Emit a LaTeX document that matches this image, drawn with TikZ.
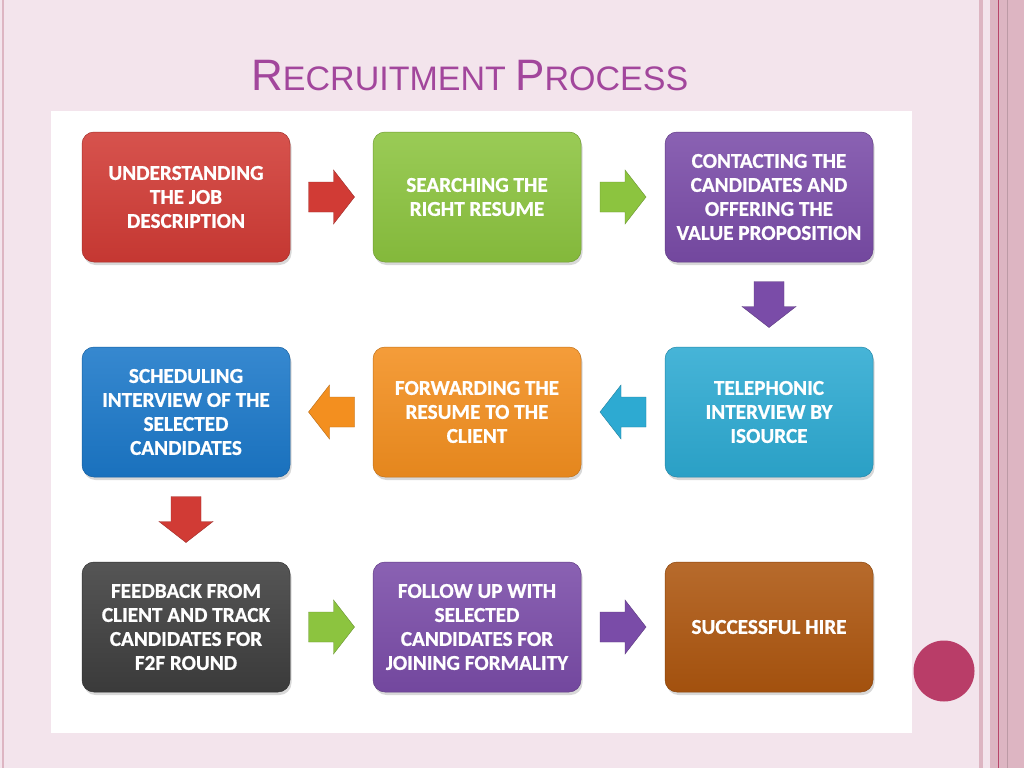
\documentclass[tikz,border=0pt]{standalone}
\usepackage{fontspec}
\usetikzlibrary{calc,shadows}
\newfontfamily\stagefont[BoldFeatures={FakeBold=0.8}]{Carlito}
\newfontfamily\titlefont{Liberation Sans}
\definecolor{pagebg}{HTML}{F3E4EC}
\definecolor{stripe}{HTML}{DDB5C2}
\definecolor{stripedark}{HTML}{B8456A}
\definecolor{dotpink}{HTML}{B93D68}
\definecolor{titlecol}{HTML}{A2469C}
\definecolor{cred}{HTML}{D13B35}
\definecolor{cgreen}{HTML}{8CC43F}
\definecolor{cpurple}{HTML}{7A4CA8}
\definecolor{ccyan}{HTML}{2DAAD2}
\definecolor{corange}{HTML}{F38F1F}
\definecolor{cblue}{HTML}{1B78C9}
\definecolor{cdark}{HTML}{3E3E3E}
\definecolor{cbrown}{HTML}{AD560F}
\tikzset{
  stage/.style={rounded corners=12pt, minimum width=208pt, minimum height=130pt,
    inner sep=0pt, align=center, text=white,
    font=\stagefont\bfseries\fontsize{21.2}{24}\selectfont,
    top color=#1!88!white, bottom color=#1!94!black, draw=#1!80!black, line width=0.5pt,
    drop shadow={shadow xshift=1.5pt, shadow yshift=-3pt, opacity=0.3}},
  flow/.style={fill=#1, draw=#1!75!black, line width=0.4pt}
}
% block arrow half way between two anchors
\newcommand\flowarrow[4]{%
  \filldraw[flow=#1, shift={($(#2)!0.5!(#3)$)}, rotate=#4]
    (-23,-15) -- (2,-15) -- (2,-27) -- (23,0) -- (2,27) -- (2,15) -- (-23,15) -- cycle;}
\newcommand\capsc[2]{{\fontsize{44}{44}\selectfont #1}{\fontsize{34}{34}\selectfont #2}}

\begin{document}
\begin{tikzpicture}[x=1pt, y=-1pt]
  \useasboundingbox (0,0) rectangle (1024,768);
  \fill[pagebg] (0,0) rectangle (1024,768);
  % page edge stripes
  \draw[stripe, line width=1.5pt] (3,0) -- (3,768);
  \fill[stripe] (979,0) rectangle (983,768);
  \fill[stripe] (990,0) rectangle (1024,768);
  \draw[stripedark, line width=1pt] (998,0) -- (998,768);
  \draw[stripe!85!black, line width=0.6pt] (1007,0) -- (1007,768);
  \fill[dotpink] (944,671) circle (30.5);
  \node[font=\titlefont\fontsize{34}{34}\selectfont, text=titlecol, anchor=base west, inner sep=0pt]
    (title) at (251,90) {\capsc{R}{ECRUITMENT} \capsc{P}{ROCESS}};
  \fill[white] (51,111) rectangle (912,733);
  % stages
  \node[stage=cred]    (job)      at (186,197) {UNDERSTANDING\\THE JOB\\DESCRIPTION};
  \node[stage=cgreen]  (search)   at (477,197) {SEARCHING THE\\RIGHT RESUME};
  \node[stage=cpurple] (contact)  at (769,197) {CONTACTING THE\\CANDIDATES AND\\OFFERING THE\\VALUE PROPOSITION};
  \node[stage=ccyan]   (phone)    at (769,412) {TELEPHONIC\\INTERVIEW BY\\ISOURCE};
  \node[stage=corange] (forward)  at (477,412) {FORWARDING THE\\RESUME TO THE\\CLIENT};
  \node[stage=cblue]   (schedule) at (186,412) {SCHEDULING\\INTERVIEW OF THE\\SELECTED\\CANDIDATES};
  \node[stage=cdark]   (feedback) at (186,627) {FEEDBACK FROM\\CLIENT AND TRACK\\CANDIDATES FOR\\F2F ROUND};
  \node[stage=cpurple] (follow)   at (477,627) {FOLLOW UP WITH\\SELECTED\\CANDIDATES FOR\\JOINING FORMALITY};
  \node[stage=cbrown]  (hire)     at (769,627) {SUCCESSFUL HIRE};
  % arrows
  \foreach \c/\a/\b/\r in {cred/job.east/search.west/0, cgreen/search.east/contact.west/0,
      cpurple/contact.south/phone.north/-90, ccyan/phone.west/forward.east/180,
      corange/forward.west/schedule.east/180, cred/schedule.south/feedback.north/-90,
      cgreen/feedback.east/follow.west/0, cpurple/follow.east/hire.west/0}{
    \flowarrow{\c}{\a}{\b}{\r} }
\end{tikzpicture}
\end{document}
